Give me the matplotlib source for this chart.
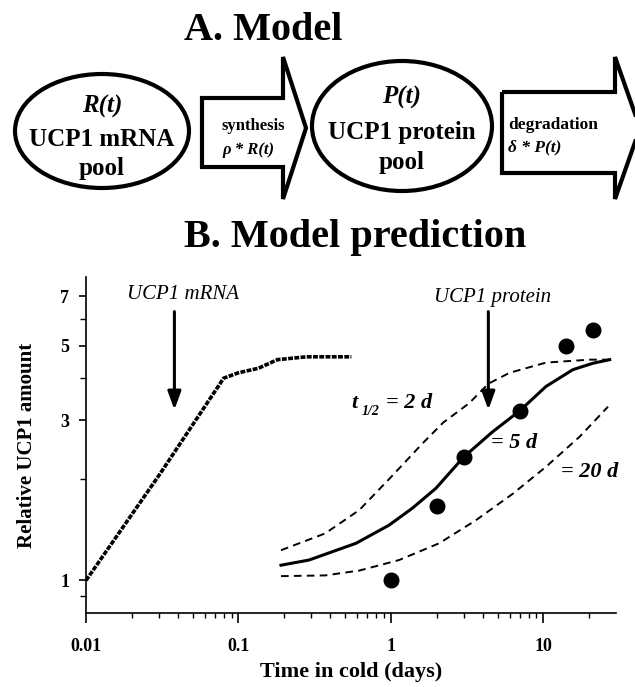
import matplotlib
matplotlib.use('Agg')
import matplotlib.pyplot as plt
from matplotlib.patches import Ellipse, Polygon
from matplotlib.ticker import FixedLocator, NullFormatter, LogLocator

plt.rcParams['font.family'] = ['Liberation Serif', 'DejaVu Serif']
plt.rcParams['lines.scale_dashes'] = False

# model curve for UCP1 mRNA
mrna_days = [0.01, 0.03, 0.08, 0.1, 0.135, 0.18, 0.28, 0.55]
mrna_level = [1.0, 2.05, 4.0, 4.15, 4.28, 4.54, 4.63, 4.63]

# model curves for UCP1 protein, half-life 2 d / 5 d / 20 d
p2_days = [0.19, 0.37, 0.62, 1.0, 1.6, 2.2, 3.26, 4.35, 6.0, 10.4, 20.0, 27.0]
p2_level = [1.23, 1.38, 1.62, 2.03, 2.55, 2.95, 3.37, 3.85, 4.15, 4.45, 4.54, 4.54]
p5_days = [0.19, 0.29, 0.59, 0.97, 1.38, 1.97, 3.0, 4.64, 7.0, 10.4, 15.6, 21.1, 27.2]
p5_level = [1.11, 1.15, 1.29, 1.46, 1.64, 1.88, 2.33, 2.77, 3.2, 3.78, 4.24, 4.43, 4.54]
p20_days = [0.19, 0.37, 0.62, 1.13, 2.07, 3.6, 6.28, 10.4, 17.3, 26.5]
p20_level = [1.03, 1.035, 1.07, 1.15, 1.29, 1.51, 1.81, 2.18, 2.68, 3.29]

# measured protein
obs_days = [1, 2, 3, 7, 14, 21]
obs_level = [1.0, 1.66, 2.33, 3.2, 5.0, 5.55]

fig = plt.figure(figsize=(6.35, 6.87), dpi=100)

# ---- A. model diagram (pixel coords) ----
dax = fig.add_axes([0, 0, 1, 1])
dax.set_xlim(0, 635)
dax.set_ylim(687, 0)
dax.axis('off')

dax.text(184, 31, 'A. Model', fontsize=29, fontweight='bold', ha='left', va='center')
dax.text(184, 238, 'B. Model prediction', fontsize=29, fontweight='bold', ha='left', va='center')

dax.add_patch(Ellipse((102, 131), 174, 114, fill=False, lw=3, ec='black'))
dax.add_patch(Ellipse((402, 126), 180, 130, fill=False, lw=3, ec='black'))

arrow1 = [(202, 98), (283, 98), (283, 57), (306, 128), (283, 199), (283, 167), (202, 167)]
arrow2 = [(502, 92), (615, 92), (615, 57), (640, 128), (615, 199), (615, 173), (502, 173)]
for pts in (arrow1, arrow2):
    dax.add_patch(Polygon(pts, closed=True, fill=False, lw=3, ec='black', joinstyle='miter'))

dax.text(102, 106, 'R(t)', fontsize=18, fontweight='bold', style='italic', ha='center', va='center')
dax.text(102, 139, 'UCP1 mRNA', fontsize=18, fontweight='bold', ha='center', va='center')
dax.text(102, 168, 'pool', fontsize=18, fontweight='bold', ha='center', va='center')
dax.text(402, 97, 'P(t)', fontsize=18, fontweight='bold', style='italic', ha='center', va='center')
dax.text(402, 133, 'UCP1 protein', fontsize=18, fontweight='bold', ha='center', va='center')
dax.text(402, 163, 'pool', fontsize=18, fontweight='bold', ha='center', va='center')

dax.text(222, 126, 'synthesis', fontsize=12, fontweight='bold', ha='left', va='center')
dax.text(222, 150, 'ρ * R(t)', fontsize=12, fontweight='bold', style='italic', ha='left', va='center')
dax.text(508, 125, 'degradation', fontsize=12.5, fontweight='bold', ha='left', va='center')
dax.text(508, 147, 'δ * P(t)', fontsize=12.5, fontweight='bold', style='italic', ha='left', va='center')

# ---- B. model prediction ----
ax = fig.add_axes([86 / 635, 74 / 687, 530 / 635, 336 / 687])
ax.set_facecolor('none')
ax.set_xscale('log')
ax.set_yscale('log')

ax.plot(mrna_days, mrna_level, color='black', lw=2.6, dashes=(3.5, 1.0))
ax.plot(p5_days, p5_level, color='black', lw=2.2)
ax.plot(p2_days, p2_level, color='black', lw=1.4, dashes=(5.5, 3.8))
ax.plot(p20_days, p20_level, color='black', lw=1.4, dashes=(5.5, 3.8))
ax.plot(obs_days, obs_level, 'o', color='black', ms=10.5)

ax.set_xlim(0.01, 29.9)
ax.set_ylim(0.8, 8)

ax.spines['top'].set_visible(False)
ax.spines['right'].set_visible(False)
ax.spines['left'].set_linewidth(1.2)
ax.spines['bottom'].set_linewidth(1.2)

ax.xaxis.set_major_locator(FixedLocator([0.01, 0.1, 1, 10]))
ax.xaxis.set_minor_locator(LogLocator(base=10, subs=range(2, 10)))
ax.xaxis.set_minor_formatter(NullFormatter())
ax.set_xticklabels(['0.01', '0.1', '1', '10'])
ax.yaxis.set_major_locator(FixedLocator([1, 3, 5, 7]))
ax.yaxis.set_minor_locator(FixedLocator([0.9, 2, 4, 6]))
ax.yaxis.set_minor_formatter(NullFormatter())
ax.set_yticklabels(['1', '3', '5', '7'])

ax.tick_params(axis='x', which='major', length=7, width=1.2, pad=11, labelsize=13)
ax.tick_params(axis='x', which='minor', length=3.5, width=1.0)
ax.tick_params(axis='y', which='major', length=5, width=1.2, pad=7, labelsize=13)
ax.tick_params(axis='y', which='minor', length=4, width=1.0)
for lab in ax.get_xticklabels() + ax.get_yticklabels():
    lab.set_fontweight('bold')

ax.set_xlabel('Time in cold (days)', fontsize=16, fontweight='bold', labelpad=5)
ax.set_ylabel('Relative UCP1 amount', fontsize=15, fontweight='bold', labelpad=17)

# labels and arrows
ax.text(0.0186, 7.09, 'UCP1 mRNA', fontsize=15, style='italic', ha='left', va='center')
ax.text(1.92, 6.95, 'UCP1 protein', fontsize=15, style='italic', ha='left', va='center')
arrow_kw = dict(arrowstyle='-|>,head_length=0.55,head_width=0.2', color='black', lw=2.2,
                shrinkA=0, shrinkB=0, mutation_scale=20)
ax.annotate('', xy=(0.038, 3.22), xytext=(0.038, 6.31), arrowprops=arrow_kw)
ax.annotate('', xy=(4.35, 3.22), xytext=(4.35, 6.31), arrowprops=arrow_kw)

lab_kw = dict(fontweight='bold', style='italic', va='center', ha='left')
ax.text(0.553, 3.38, 't', fontsize=16, **lab_kw)
ax.annotate('1/2', xy=(0.553, 3.38), xytext=(7.5, -6.5), textcoords='offset points',
            fontsize=10, **lab_kw)
ax.annotate('= 2 d', xy=(0.553, 3.38), xytext=(25, 0), textcoords='offset points',
            fontsize=16, **lab_kw)
ax.text(4.55, 2.56, '= 5 d', fontsize=16, **lab_kw)
ax.text(13.1, 2.10, '= 20 d', fontsize=16, **lab_kw)

fig.savefig('out.png', dpi=100)
